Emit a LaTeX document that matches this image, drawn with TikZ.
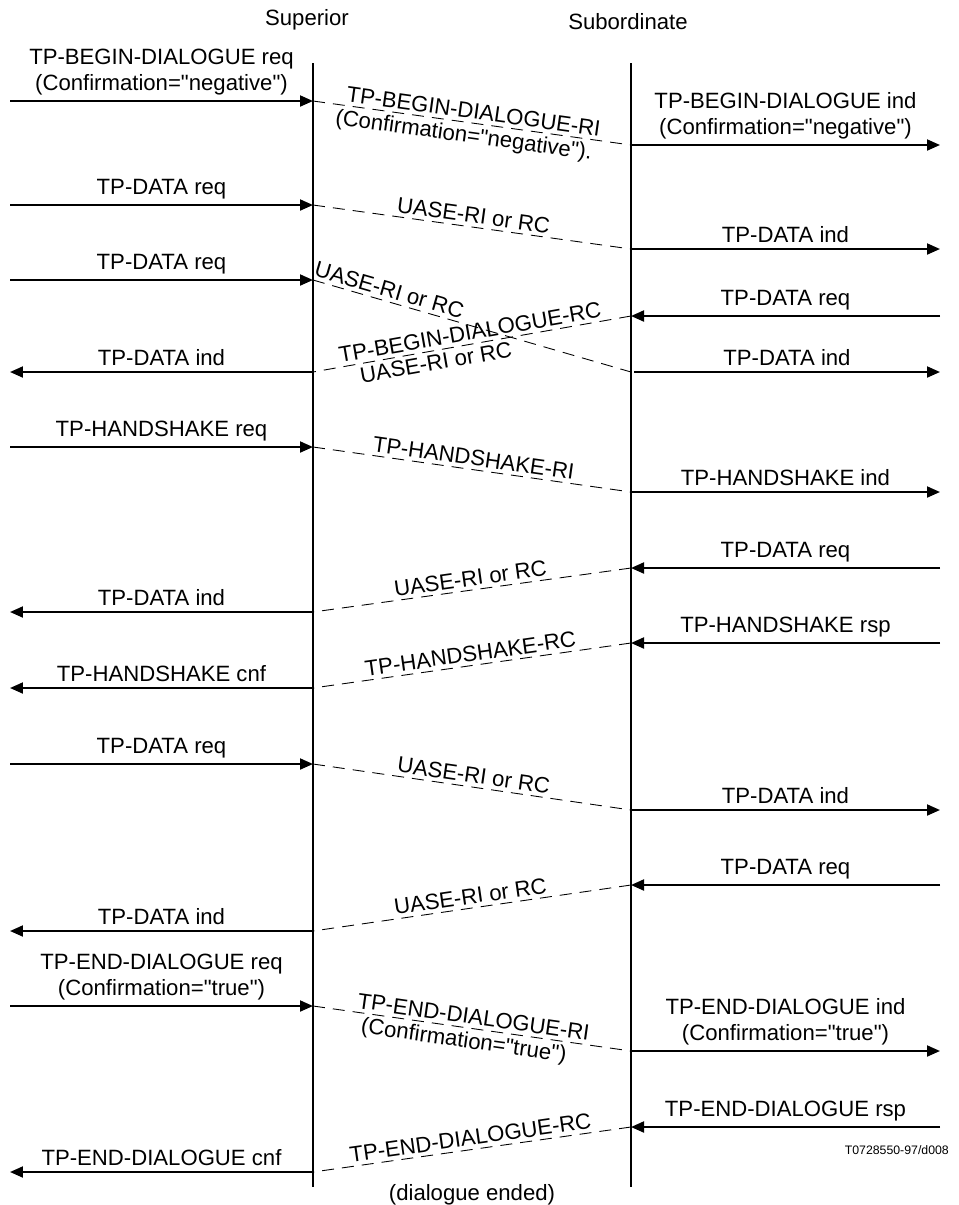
\documentclass[tikz,border=0pt]{standalone}
\usepackage{fontspec}
\setmainfont{Liberation Sans}[Ligatures=TeXOff]
\usetikzlibrary{arrows.meta}
\newcommand{\primfont}{\fontsize{12.6}{14.5}\selectfont}
\newcommand{\tagfont}{\fontsize{7}{8}\selectfont}
\tikzset{
  lifeLine/.style = {line width=0.8pt},
  prim/.style = {-{Triangle[length=2.6mm, width=2.2mm]}, line width=1.1pt},
  pdu/.style = {line width=0.5pt, dash pattern=on 2.4mm off 1.6mm},
  primLabel/.style = {above, font=\primfont, align=center, inner sep=3pt},
  pduAbove/.style = {sloped, above, font=\primfont, align=center, inner sep=2pt},
  pduBelow/.style = {sloped, below, font=\primfont, align=center, inner sep=2pt},
  party/.style = {font=\primfont},
}

\begin{document}
\begin{tikzpicture}[x=0.02cm, y=-0.02cm]
\useasboundingbox (0,0) rectangle (959,1205);

% the two parties
\node[party] (sup) at (307,20) {Superior};
\node[party] (sub) at (628,22) {Subordinate};
\coordinate (supTop) at (313,63);
\coordinate (supBot) at (313,1187);
\coordinate (subTop) at (631,63);
\coordinate (subBot) at (631,1187);
\draw[lifeLine] (supTop) -- (supBot);
\draw[lifeLine] (subTop) -- (subBot);

% begin dialogue
\coordinate (a1) at (10,101);
\coordinate (b1) at (313,101);
\coordinate (c1) at (631,145);
\coordinate (d1) at (940,145);
\draw[prim] (a1) -- node[primLabel] {TP-BEGIN-DIALOGUE req\\(Confirmation="negative")} (b1);
\draw[pdu] (b1) -- node[pduAbove] {TP-BEGIN-DIALOGUE-RI} node[pduBelow, pos=0.48] {(Confirmation="negative").} (c1);
\draw[prim] (c1) -- node[primLabel] {TP-BEGIN-DIALOGUE ind\\(Confirmation="negative")} (d1);

% data
\coordinate (a2) at (10,205);
\coordinate (b2) at (313,205);
\coordinate (c2) at (631,249);
\coordinate (d2) at (940,249);
\draw[prim] (a2) -- node[primLabel] {TP-DATA req} (b2);
\draw[pdu] (b2) -- node[pduAbove] {UASE-RI or RC} (c2);
\draw[prim] (c2) -- node[primLabel] {TP-DATA ind} (d2);

% crossing data
\coordinate (a3) at (10,280);
\coordinate (b3) at (313,280);
\coordinate (c3) at (631,372);
\coordinate (d3) at (634,372);
\coordinate (e3) at (940,372);
\coordinate (f3) at (940,316);
\coordinate (g3) at (631,316);
\coordinate (h3) at (313,372);
\coordinate (k3) at (10,372);
\draw[prim] (a3) -- node[primLabel] {TP-DATA req} (b3);
\draw[pdu] (b3) -- node[pduAbove, pos=0.23] {UASE-RI or RC} (c3);
\draw[prim] (d3) -- node[primLabel] {TP-DATA ind} (e3);
\draw[prim] (f3) -- node[primLabel] {TP-DATA req} (g3);
\draw[pdu] (g3) -- node[pduAbove] {TP-BEGIN-DIALOGUE-RC} node[pduBelow, pos=0.62] {UASE-RI or RC} (h3);
\draw[prim] (h3) -- node[primLabel] {TP-DATA ind} (k3);

% handshake
\coordinate (a4) at (10,447);
\coordinate (b4) at (313,447);
\coordinate (c4) at (631,492);
\coordinate (d4) at (940,492);
\draw[prim] (a4) -- node[primLabel] {TP-HANDSHAKE req} (b4);
\draw[pdu] (b4) -- node[pduAbove] {TP-HANDSHAKE-RI} (c4);
\draw[prim] (c4) -- node[primLabel] {TP-HANDSHAKE ind} (d4);

% data back
\coordinate (a5) at (940,568);
\coordinate (b5) at (631,568);
\coordinate (c5) at (313,612);
\coordinate (d5) at (10,612);
\draw[prim] (a5) -- node[primLabel] {TP-DATA req} (b5);
\draw[pdu] (b5) -- node[pduAbove] {UASE-RI or RC} (c5);
\draw[prim] (c5) -- node[primLabel] {TP-DATA ind} (d5);

% handshake response
\coordinate (a6) at (940,643);
\coordinate (b6) at (631,643);
\coordinate (c6) at (313,688);
\coordinate (d6) at (10,688);
\draw[prim] (a6) -- node[primLabel] {TP-HANDSHAKE rsp} (b6);
\draw[pdu] (b6) -- node[pduAbove] {TP-HANDSHAKE-RC} (c6);
\draw[prim] (c6) -- node[primLabel] {TP-HANDSHAKE cnf} (d6);

% data
\coordinate (a7) at (10,764);
\coordinate (b7) at (313,764);
\coordinate (c7) at (631,810);
\coordinate (d7) at (940,810);
\draw[prim] (a7) -- node[primLabel] {TP-DATA req} (b7);
\draw[pdu] (b7) -- node[pduAbove] {UASE-RI or RC} (c7);
\draw[prim] (c7) -- node[primLabel] {TP-DATA ind} (d7);

% data back
\coordinate (a8) at (940,885);
\coordinate (b8) at (631,885);
\coordinate (c8) at (313,931);
\coordinate (d8) at (10,931);
\draw[prim] (a8) -- node[primLabel] {TP-DATA req} (b8);
\draw[pdu] (b8) -- node[pduAbove] {UASE-RI or RC} (c8);
\draw[prim] (c8) -- node[primLabel] {TP-DATA ind} (d8);

% end dialogue
\coordinate (a9) at (10,1006);
\coordinate (b9) at (313,1006);
\coordinate (c9) at (631,1051);
\coordinate (d9) at (940,1051);
\draw[prim] (a9) -- node[primLabel] {TP-END-DIALOGUE req\\(Confirmation="true")} (b9);
\draw[pdu] (b9) -- node[pduAbove] {TP-END-DIALOGUE-RI} node[pduBelow, pos=0.48] {(Confirmation="true")} (c9);
\draw[prim] (c9) -- node[primLabel] {TP-END-DIALOGUE ind\\(Confirmation="true")} (d9);

% end dialogue response
\coordinate (a10) at (940,1127);
\coordinate (b10) at (631,1127);
\coordinate (c10) at (313,1172);
\coordinate (d10) at (10,1172);
\draw[prim] (a10) -- node[primLabel] {TP-END-DIALOGUE rsp} (b10);
\draw[pdu] (b10) -- node[pduAbove] {TP-END-DIALOGUE-RC} (c10);
\draw[prim] (c10) -- node[primLabel] {TP-END-DIALOGUE cnf} (d10);

\node[font=\primfont] (ended) at (472,1195) {(dialogue ended)};
\node[font=\tagfont, anchor=east] (tag) at (955,1150) {T0728550-97/d008};

\end{tikzpicture}
\end{document}
